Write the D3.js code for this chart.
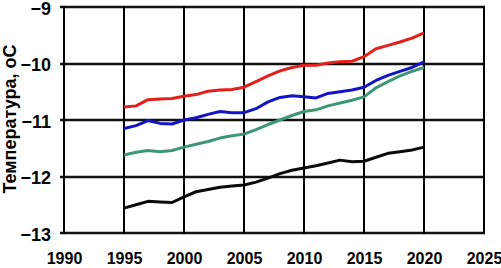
<!DOCTYPE html>
<html>
<head>
<meta charset="utf-8">
<script src="https://cdn.jsdelivr.net/npm/d3@7"></script>
<style>
  html, body { margin: 0; padding: 0; background: #fff; }
  svg text { font-family: "Liberation Sans", Arial, sans-serif; font-weight: bold; fill: #000; }
</style>
</head>
<body>
<div id="chart"></div>
<script>
// series, one value per year 1995..2020
const years = d3.range(1995, 2021);
const redSeries   = [-10.77,-10.75,-10.64,-10.63,-10.62,-10.58,-10.55,-10.49,-10.47,-10.46,-10.42,-10.32,-10.22,-10.13,-10.07,-10.03,-10.03,-9.99,-9.97,-9.96,-9.88,-9.74,-9.68,-9.62,-9.55,-9.46];
const blueSeries  = [-11.15,-11.10,-11.01,-11.06,-11.07,-11.00,-10.96,-10.90,-10.85,-10.87,-10.87,-10.80,-10.68,-10.60,-10.57,-10.59,-10.61,-10.53,-10.50,-10.47,-10.42,-10.30,-10.21,-10.14,-10.07,-9.97];
const greenSeries = [-11.62,-11.57,-11.54,-11.56,-11.54,-11.48,-11.43,-11.38,-11.32,-11.28,-11.25,-11.17,-11.08,-11.00,-10.92,-10.85,-10.82,-10.75,-10.70,-10.65,-10.59,-10.43,-10.32,-10.22,-10.14,-10.07];
const blackSeries = [-12.56,-12.50,-12.44,-12.45,-12.46,-12.36,-12.27,-12.23,-12.19,-12.17,-12.15,-12.10,-12.03,-11.95,-11.89,-11.85,-11.81,-11.76,-11.71,-11.74,-11.73,-11.66,-11.59,-11.56,-11.53,-11.48];
const xTicks = [1990, 1995, 2000, 2005, 2010, 2015, 2020, 2025];
const yTicks = [-13, -12, -11, -10, -9];
const yTitle = "Температура, оС";

const W = 501, H = 268;
const margin = { top: 7, right: 17, bottom: 35, left: 64 };
const w = W - margin.left - margin.right, h = H - margin.top - margin.bottom;

const svg = d3.select("#chart").append("svg")
  .attr("width", W).attr("height", H);
const g = svg.append("g").attr("transform", `translate(${margin.left},${margin.top})`);

const x = d3.scaleLinear().domain([1990, 2025]).range([0, w]);
const y = d3.scaleLinear().domain([-13, -9]).range([h, 0]);

// labels
svg.append("text")
  .attr("transform", `translate(16,${margin.top + 112}) rotate(-90)`)
  .attr("text-anchor", "middle").style("font-size", "18px")
  .text(yTitle);

g.append("g")
  .call(d3.axisLeft(y).tickValues(yTicks).tickSize(0).tickPadding(13).tickFormat(d3.format("d")))
  .call(s => s.select(".domain").remove())
  .selectAll("text").style("font-size", "18px").attr("dy", "0.4em");

g.append("g").attr("transform", `translate(0,${h})`)
  .call(d3.axisBottom(x).tickValues(xTicks).tickSize(0).tickPadding(20).tickFormat(d3.format("d")))
  .call(s => s.select(".domain").remove())
  .selectAll("text").style("font-size", "16px");

// grid: horizontal rules as thin filled rects, vertical rules as strokes
const grid = g.append("g");
grid.selectAll("rect.h").data(yTicks).join("rect").attr("class", "h")
  .attr("x", -4).attr("width", w + 5)
  .attr("y", d => Math.round(y(d)) - 1.25).attr("height", 2.5)
  .attr("fill", "#111");
grid.selectAll("path.v").data(xTicks).join("path").attr("class", "v")
  .attr("d", d => `M${Math.round(x(d))},-1V${Math.round(h) + 1}`)
  .attr("fill", "none").attr("stroke", "#000").attr("stroke-width", 2);

// series
const series = [
  { values: redSeries,   color: "#e41e1a" },
  { values: blueSeries,  color: "#1212c6" },
  { values: greenSeries, color: "#3e9677" },
  { values: blackSeries, color: "#0a0a0a" },
];
const line = d3.line().x((d, i) => x(years[i])).y(d => y(d));
series.forEach(s => {
  g.append("path").datum(s.values)
    .attr("fill", "none").attr("stroke", s.color).attr("stroke-width", 3)
    .attr("stroke-linejoin", "round")
    .attr("d", line);
});
</script>
</body>
</html>
